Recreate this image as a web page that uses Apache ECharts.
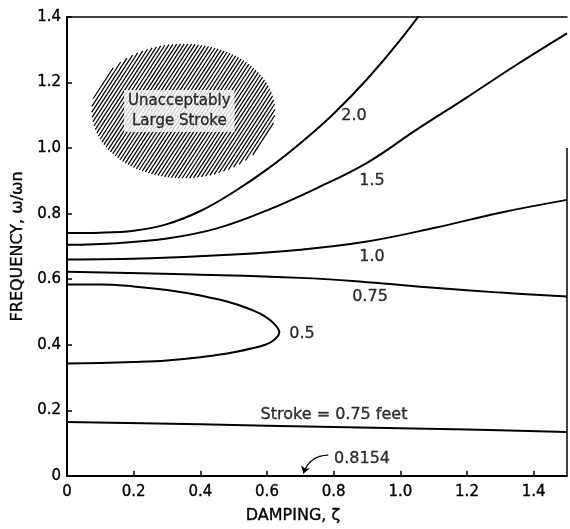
<!DOCTYPE html>
<html>
<head>
<meta charset="utf-8">
<script src="https://cdn.jsdelivr.net/npm/echarts@6/dist/echarts.min.js"></script>
<style>html,body{margin:0;padding:0;background:#fff}#c{width:570px;height:529px}</style>
</head>
<body>
<div id="c"></div>
<script>
// ---- data ----
const xTicks = ['0', '0.2', '0.4', '0.6', '0.8', '1.0', '1.2', '1.4'];
const yTicks = ['0', '0.2', '0.4', '0.6', '0.8', '1.0', '1.2', '1.4'];

const zeta20  = [0, 0.10, 0.20, 0.30, 0.40, 0.50, 0.60, 0.70, 0.80, 0.90, 1.00, 1.10];
const omega20 = [0.741, 0.742, 0.748, 0.768, 0.808, 0.866, 0.935, 1.015, 1.105, 1.210, 1.330, 1.465];

const zeta15  = [0, 0.15, 0.30, 0.45, 0.60, 0.75, 0.90, 1.05, 1.20, 1.35, 1.50];
const omega15 = [0.705, 0.710, 0.724, 0.755, 0.810, 0.878, 0.955, 1.057, 1.155, 1.255, 1.350];

const zeta10  = [0, 0.25, 0.50, 0.70, 0.90, 1.10, 1.30, 1.50];
const omega10 = [0.660, 0.664, 0.675, 0.690, 0.715, 0.756, 0.803, 0.842];

const zeta075  = [0, 0.38, 0.70, 0.90, 1.10, 1.30, 1.50];
const omega075 = [0.623, 0.614, 0.604, 0.591, 0.574, 0.559, 0.547];

const zeta05  = [0, 0.10, 0.20, 0.30, 0.40, 0.50, 0.555, 0.595, 0.623, 0.637, 0.623, 0.595, 0.50, 0.40, 0.30, 0.20, 0.10, 0];
const omega05 = [0.584, 0.584, 0.578, 0.567, 0.550, 0.526, 0.506, 0.486, 0.462, 0.438, 0.416, 0.400, 0.377, 0.362, 0.352, 0.347, 0.344, 0.343];

const zetaStroke  = [0, 0.4, 0.8, 1.2, 1.5];
const omegaStroke = [0.164, 0.157, 0.149, 0.141, 0.134];

// hatched region: centre (zeta, omega) and half-widths
const regionCentre = [0.349, 1.113];
const regionRadii = [0.275, 0.205];
const regionText = 'Unacceptably\nLarge Stroke';

const curveLabels = ['2.0', '1.5', '1.0', '0.75', '0.5', 'Stroke = 0.75 feet', '0.8154'];
const labelZeta  = [0.861, 0.915, 0.915, 0.909, 0.705, 0.801, 0.885];
const labelOmega = [1.097, 0.899, 0.669, 0.545, 0.432, 0.186, 0.053];

const arrowFrom = [0.784, 0.063];
const arrowTo = [0.709, 0.007];

const frameRight = [[1.5, 0], [1.5, 1.0]];

// ---- build ----
const zip = (a, b) => a.map((v, i) => [v, b[i]]);
const FONT = 'DejaVu Sans';
const INK = '#000';
const textBase = { fontFamily: FONT, color: INK, textBorderColor: INK, textBorderWidth: 0.35 };

function curve(name, xs, ys) {
  return {
    name: name, type: 'line', data: zip(xs, ys), smooth: 0.4, showSymbol: false,
    lineStyle: { color: INK, width: 2 }, z: 3, silent: true, clip: true
  };
}

const chart = echarts.init(document.getElementById('c'), null, { renderer: 'canvas' });

const option = {
  backgroundColor: '#fff',
  animation: false,
  grid: { left: 67, right: 3, top: 17, bottom: 52 },
  xAxis: [{
    type: 'value', min: 0, max: 1.5, interval: 0.2,
    name: 'DAMPING, ζ', nameLocation: 'middle', nameGap: 32,
    nameTextStyle: Object.assign({ fontSize: 16, padding: [0, 48, 0, 0] }, textBase),
    axisLine: { show: true, lineStyle: { color: INK, width: 2 } },
    axisTick: { show: true, inside: true, length: 5, lineStyle: { color: INK, width: 1.5 } },
    axisLabel: Object.assign({
      fontSize: 15, margin: 9, showMaxLabel: false,
      formatter: v => { const i = Math.round(v / 0.2); return Math.abs(v - i * 0.2) < 1e-6 && i < xTicks.length ? xTicks[i] : ''; }
    }, textBase),
    splitLine: { show: false }
  }, {
    type: 'value', min: 0, max: 1.5, position: 'top',
    axisLine: { show: true, onZero: false, lineStyle: { color: INK, width: 1.5 } },
    axisTick: { show: false }, axisLabel: { show: false }, splitLine: { show: false }
  }],
  yAxis: {
    type: 'value', min: 0, max: 1.4, interval: 0.2,
    name: 'FREQUENCY, ω/ωn', nameLocation: 'middle', nameGap: 40, nameRotate: 90,
    nameTextStyle: Object.assign({ fontSize: 16 }, textBase),
    axisLine: { show: true, lineStyle: { color: INK, width: 2 } },
    axisTick: { show: true, inside: true, length: 5, lineStyle: { color: INK, width: 1.5 } },
    axisLabel: Object.assign({
      fontSize: 15, margin: 6,
      formatter: v => { const i = Math.round(v / 0.2); return yTicks[i] || ''; }
    }, textBase),
    splitLine: { show: false }
  },
  series: [
    {
      name: 'region', type: 'custom', silent: true, z: 1,
      data: [[regionCentre[0], regionCentre[1], regionRadii[0], regionRadii[1]]],
      renderItem: function (params, api) {
        const c = api.coord([api.value(0), api.value(1)]);
        const sz = api.size([api.value(2), api.value(3)]);
        const a = sz[0], b = sz[1];
        const th = 57 * Math.PI / 180;
        const dx = Math.cos(th), dy = -Math.sin(th);
        const nx = Math.sin(th), ny = Math.cos(th);
        const step = 3.7 * Math.sin(th);
        const R = Math.max(a, b);
        let p = '';
        const A = dx * dx / (a * a) + dy * dy / (b * b);
        for (let s = -R; s <= R; s += step) {
          const B = 2 * s * (nx * dx / (a * a) + ny * dy / (b * b));
          const C = s * s * (nx * nx / (a * a) + ny * ny / (b * b)) - 1;
          const disc = B * B - 4 * A * C;
          if (disc <= 0) continue;
          const t1 = (-B - Math.sqrt(disc)) / (2 * A), t2 = (-B + Math.sqrt(disc)) / (2 * A);
          const x1 = c[0] + s * nx + t1 * dx, y1 = c[1] + s * ny + t1 * dy;
          const x2 = c[0] + s * nx + t2 * dx, y2 = c[1] + s * ny + t2 * dy;
          p += 'M' + x1.toFixed(2) + ' ' + y1.toFixed(2) + 'L' + x2.toFixed(2) + ' ' + y2.toFixed(2);
        }
        return {
          type: 'path', shape: { pathData: p },
          style: { stroke: '#000', lineWidth: 1.25, fill: null }
        };
      }
    },
    {
      name: 'regionText', type: 'scatter', silent: true, z: 5, symbolSize: 0,
      data: [{ value: regionCentre, name: regionText }],
      label: Object.assign({
        show: true, position: 'inside', formatter: '{b}',
        fontSize: 15, lineHeight: 20,
        backgroundColor: '#fff', padding: [1, 4, 1, 4], offset: [-4, 0]
      }, textBase)
    },
    curve('2.0', zeta20, omega20),
    curve('1.5', zeta15, omega15),
    curve('1.0', zeta10, omega10),
    curve('0.75', zeta075, omega075),
    curve('0.5', zeta05, omega05),
    curve('stroke', zetaStroke, omegaStroke),
    {
      name: 'frame', type: 'line', data: frameRight, showSymbol: false, silent: true,
      lineStyle: { color: INK, width: 1.5 }, z: 3
    },
    {
      name: 'arrow', type: 'lines', coordinateSystem: 'cartesian2d', silent: true, z: 4,
      symbol: ['none', 'arrow'], symbolSize: 7,
      lineStyle: { color: INK, width: 1.3, curveness: -0.35, opacity: 1 },
      data: [{ coords: [arrowFrom, arrowTo] }]
    },
    {
      name: 'labels', type: 'scatter', silent: true, z: 6, symbolSize: 0,
      data: curveLabels.map((t, i) => ({ name: t, value: [labelZeta[i], labelOmega[i]] })),
      label: Object.assign({
        show: true, position: 'inside', formatter: '{b}', fontSize: 16
      }, textBase)
    }
  ]
};
chart.setOption(option);
</script>
</body>
</html>
